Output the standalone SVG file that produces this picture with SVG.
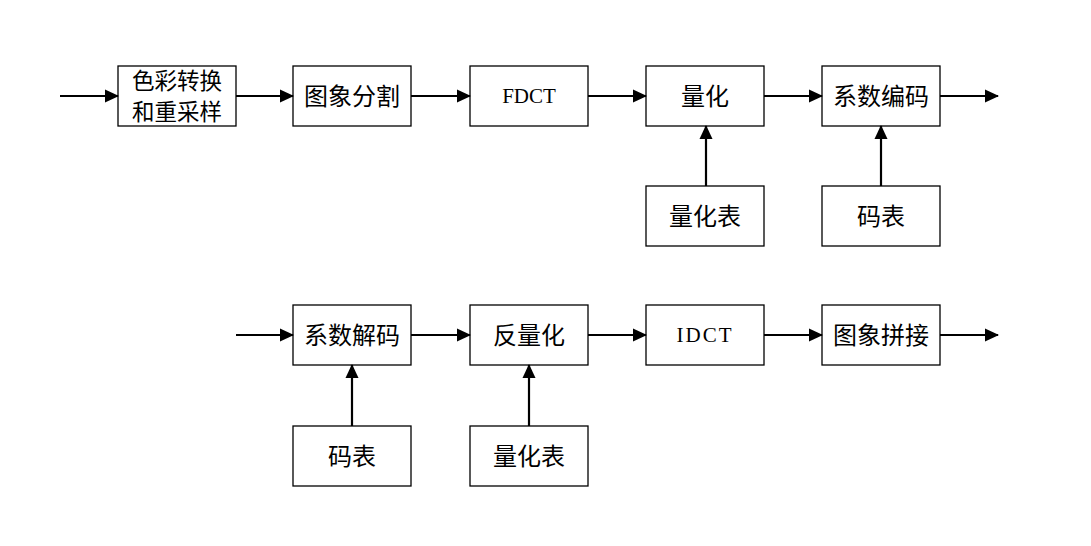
<svg xmlns="http://www.w3.org/2000/svg" width="1091" height="546" viewBox="0 0 1091 546">
<style>
rect{fill:#fff;stroke:#000;stroke-width:1.3}
text{font-family:"Noto Sans CJK SC","Noto Sans",sans-serif;font-size:24px;fill:#000;text-anchor:middle;dominant-baseline:central}
.two{font-size:22.5px}
.lat{font-family:"Liberation Serif",serif;font-size:21px}
.c line{stroke:#000;stroke-width:2.2}
</style>
<defs><marker id="ah" markerWidth="14" markerHeight="14" refX="13" refY="7" orient="auto" markerUnits="userSpaceOnUse"><path d="M0,0.5L14,7L0,13.5Z" fill="#000"/></marker></defs>
<g id="n1"><rect x="118" y="66" width="118" height="60"/><text class="two" x="177" y="79">色彩转换</text><text class="two" x="177" y="110">和重采样</text></g>
<g id="n2"><rect x="293" y="66" width="118" height="60"/><text x="352" y="94">图象分割</text></g>
<g id="n3"><rect x="470" y="66" width="118" height="60"/><text class="lat" x="529" y="96">FDCT</text></g>
<g id="n4"><rect x="646" y="66" width="118" height="60"/><text x="705" y="94">量化</text></g>
<g id="n5"><rect x="822" y="66" width="118" height="60"/><text x="881" y="94">系数编码</text></g>
<g id="n6"><rect x="646" y="186" width="118" height="60"/><text x="705" y="214">量化表</text></g>
<g id="n7"><rect x="822" y="186" width="118" height="60"/><text x="881" y="214">码表</text></g>
<g id="n8"><rect x="293" y="305" width="118" height="60"/><text x="352" y="333">系数解码</text></g>
<g id="n9"><rect x="470" y="305" width="118" height="60"/><text x="529" y="333">反量化</text></g>
<g id="n10"><rect x="646" y="305" width="118" height="60"/><text class="lat" x="705" y="335" letter-spacing="2">IDCT</text></g>
<g id="n11"><rect x="822" y="305" width="118" height="60"/><text x="881" y="333">图象拼接</text></g>
<g id="n12"><rect x="293" y="426" width="118" height="60"/><text x="352" y="454">码表</text></g>
<g id="n13"><rect x="470" y="426" width="118" height="60"/><text x="529" y="454">量化表</text></g>
<g class="c">
<line x1="60" y1="96" x2="118" y2="96" marker-end="url(#ah)"/>
<line x1="236" y1="96" x2="293" y2="96" marker-end="url(#ah)"/>
<line x1="411" y1="96" x2="470" y2="96" marker-end="url(#ah)"/>
<line x1="588" y1="96" x2="646" y2="96" marker-end="url(#ah)"/>
<line x1="764" y1="96" x2="822" y2="96" marker-end="url(#ah)"/>
<line x1="940" y1="96" x2="998" y2="96" marker-end="url(#ah)"/>
<line x1="706" y1="186" x2="706" y2="126" marker-end="url(#ah)"/>
<line x1="881" y1="186" x2="881" y2="126" marker-end="url(#ah)"/>
<line x1="236" y1="335" x2="293" y2="335" marker-end="url(#ah)"/>
<line x1="411" y1="335" x2="470" y2="335" marker-end="url(#ah)"/>
<line x1="588" y1="335" x2="646" y2="335" marker-end="url(#ah)"/>
<line x1="764" y1="335" x2="822" y2="335" marker-end="url(#ah)"/>
<line x1="940" y1="335" x2="998" y2="335" marker-end="url(#ah)"/>
<line x1="352" y1="426" x2="352" y2="365" marker-end="url(#ah)"/>
<line x1="529" y1="426" x2="529" y2="365" marker-end="url(#ah)"/>
</g>
</svg>
